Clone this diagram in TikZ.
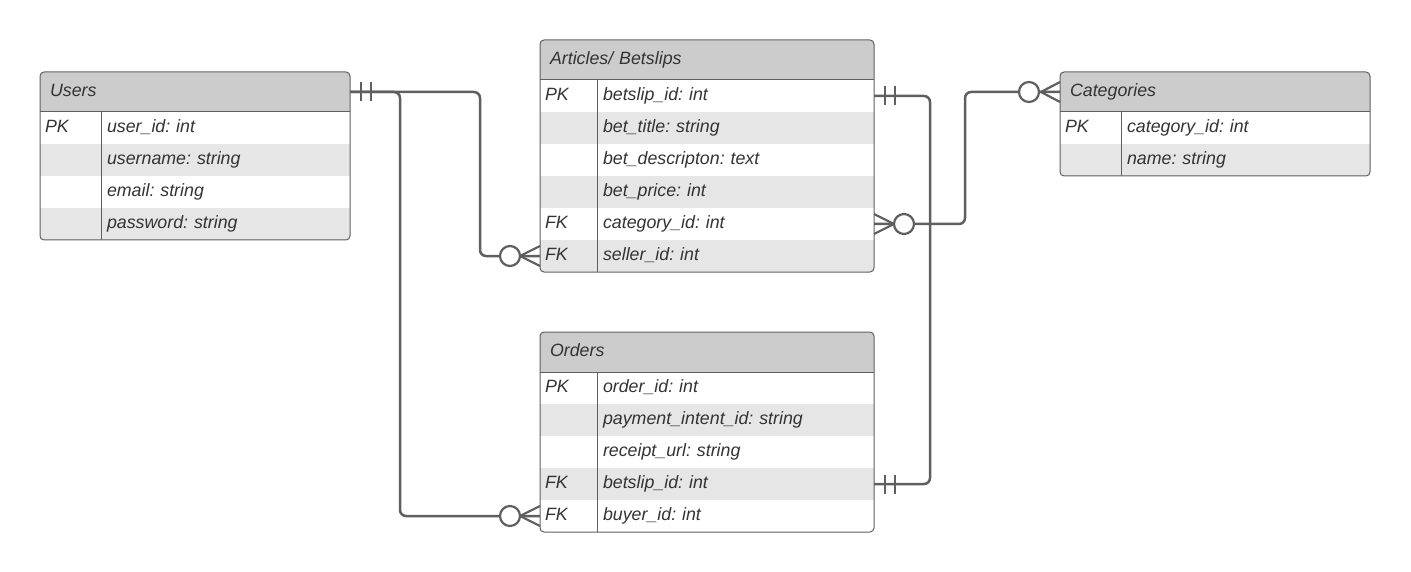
\documentclass[tikz,border=0pt]{standalone}
\usepackage{fontspec}
\setmainfont{Liberation Sans}
\usetikzlibrary{calc}
\frenchspacing

\definecolor{hdrgray}{RGB}{204,204,204}
\definecolor{rowgray}{RGB}{230,230,230}
\definecolor{edgegray}{RGB}{95,95,95}
\definecolor{txtgray}{RGB}{51,51,51}

\begin{document}
\begin{tikzpicture}[x=1pt,y=1pt,yscale=-1,xscale=1,
  font=\fontsize{17.8}{21}\selectfont\itshape,
  cell/.style={anchor=north west,outer sep=0pt,inner ysep=0pt,minimum height=32,
    text height=13,text depth=4,text=txtgray,align=left},
  hdr/.style={cell,minimum height=40,fill=hdrgray,inner xsep=10},
  keycell/.style={cell,inner xsep=5},
  fldcell/.style={cell,inner xsep=6},
  alt/.style={fill=rowgray},
  tabline/.style={draw=edgegray,line width=1},
  conn/.style={draw=edgegray,line width=2.5,rounded corners=6},
  foot/.style={draw=edgegray,line width=2.2},
  ]
\path[use as bounding box] (0,0) rectangle (1411,572);

%Table: Users
\begin{scope}
\clip[rounded corners=4] (40,72) rectangle (350,240);
\node[hdr,text width=290] (users-h) at (40,72) {Users};
\node[keycell,text width=51] (users-k1) at (40,112) {PK};
\node[fldcell,text width=237] (users-f1) at (101,112) {user\_id: int};
\node[keycell,alt,text width=51] (users-k2) at (40,144) {};
\node[fldcell,alt,text width=237] (users-f2) at (101,144) {username: string};
\node[keycell,text width=51] (users-k3) at (40,176) {};
\node[fldcell,text width=237] (users-f3) at (101,176) {email: string};
\node[keycell,alt,text width=51] (users-k4) at (40,208) {};
\node[fldcell,alt,text width=237] (users-f4) at (101,208) {password: string};
\end{scope}
\draw[tabline,rounded corners=4] (users-h.north west) rectangle (users-f4.south east);
\draw[tabline] (users-h.south west) -- (users-h.south east);
\draw[tabline] (users-k1.north east) -- (users-k4.south east);

%Table: Articles/ Betslips
\begin{scope}
\clip[rounded corners=4] (540,40) rectangle (874,272);
\node[hdr,text width=314] (art-h) at (540,40) {Articles/ Betslips};
\node[keycell,text width=47] (art-k1) at (540,80) {PK};
\node[fldcell,text width=265] (art-f1) at (597,80) {betslip\_id: int};
\node[keycell,alt,text width=47] (art-k2) at (540,112) {};
\node[fldcell,alt,text width=265] (art-f2) at (597,112) {bet\_title: string};
\node[keycell,text width=47] (art-k3) at (540,144) {};
\node[fldcell,text width=265] (art-f3) at (597,144) {bet\_descripton: text};
\node[keycell,alt,text width=47] (art-k4) at (540,176) {};
\node[fldcell,alt,text width=265] (art-f4) at (597,176) {bet\_price: int};
\node[keycell,text width=47] (art-k5) at (540,208) {FK};
\node[fldcell,text width=265] (art-f5) at (597,208) {category\_id: int};
\node[keycell,alt,text width=47] (art-k6) at (540,240) {FK};
\node[fldcell,alt,text width=265] (art-f6) at (597,240) {seller\_id: int};
\end{scope}
\draw[tabline,rounded corners=4] (art-h.north west) rectangle (art-f6.south east);
\draw[tabline] (art-h.south west) -- (art-h.south east);
\draw[tabline] (art-k1.north east) -- (art-k6.south east);

%Table: Orders
\begin{scope}
\clip[rounded corners=4] (540,332) rectangle (874,532);
\node[hdr,text width=314] (ord-h) at (540,332) {Orders};
\node[keycell,text width=47] (ord-k1) at (540,372) {PK};
\node[fldcell,text width=265] (ord-f1) at (597,372) {order\_id: int};
\node[keycell,alt,text width=47] (ord-k2) at (540,404) {};
\node[fldcell,alt,text width=265] (ord-f2) at (597,404) {payment\_intent\_id: string};
\node[keycell,text width=47] (ord-k3) at (540,436) {};
\node[fldcell,text width=265] (ord-f3) at (597,436) {receipt\_url: string};
\node[keycell,alt,text width=47] (ord-k4) at (540,468) {FK};
\node[fldcell,alt,text width=265] (ord-f4) at (597,468) {betslip\_id: int};
\node[keycell,text width=47] (ord-k5) at (540,500) {FK};
\node[fldcell,text width=265] (ord-f5) at (597,500) {buyer\_id: int};
\end{scope}
\draw[tabline,rounded corners=4] (ord-h.north west) rectangle (ord-f5.south east);
\draw[tabline] (ord-h.south west) -- (ord-h.south east);
\draw[tabline] (ord-k1.north east) -- (ord-k5.south east);

%Table: Categories
\begin{scope}
\clip[rounded corners=4] (1060,72) rectangle (1370,176);
\node[hdr,text width=290] (cat-h) at (1060,72) {Categories};
\node[keycell,text width=51] (cat-k1) at (1060,112) {PK};
\node[fldcell,text width=237] (cat-f1) at (1121,112) {category\_id: int};
\node[keycell,alt,text width=51] (cat-k2) at (1060,144) {};
\node[fldcell,alt,text width=237] (cat-f2) at (1121,144) {name: string};
\end{scope}
\draw[tabline,rounded corners=4] (cat-h.north west) rectangle (cat-f2.south east);
\draw[tabline] (cat-h.south west) -- (cat-h.south east);
\draw[tabline] (cat-k1.north east) -- (cat-k2.south east);

%Connectors
\draw[conn] (users-h.east) -- ++(130,0) |- (art-k6.west);
\draw[conn] (users-h.east) -- ++(50,0) |- (ord-k5.west);
\draw[conn] (art-f1.east) -- ++(56,0) |- (ord-f4.east);
\draw[conn] (art-f5.east) -- ++(91,0) |- (cat-h.west);

%Ends: one and only one
\draw[foot] ($(users-h.east)+(11,-9.5)$) -- ++(0,19) ($(users-h.east)+(21,-9.5)$) -- ++(0,19);
\draw[foot] ($(art-f1.east)+(11,-9.5)$) -- ++(0,19) ($(art-f1.east)+(21,-9.5)$) -- ++(0,19);
\draw[foot] ($(ord-f4.east)+(11,-9.5)$) -- ++(0,19) ($(ord-f4.east)+(21,-9.5)$) -- ++(0,19);

%Ends: zero or many
\draw[foot] ($(art-k6.west)+(0,-10)$) -- ++(-20,10) -- ++(20,10);
\draw[foot,fill=white] ($(art-k6.west)+(-30,0)$) circle[radius=10];
\draw[foot] ($(ord-k5.west)+(0,-10)$) -- ++(-20,10) -- ++(20,10);
\draw[foot,fill=white] ($(ord-k5.west)+(-30,0)$) circle[radius=10];
\draw[foot] ($(art-f5.east)+(0,-10)$) -- ++(20,10) -- ++(-20,10);
\draw[foot,fill=white] ($(art-f5.east)+(30,0)$) circle[radius=10];
\draw[foot] ($(cat-h.west)+(0,-10)$) -- ++(-19,10) -- ++(19,10);
\draw[foot,fill=white] ($(cat-h.west)+(-31,0)$) circle[radius=10];

\end{tikzpicture}
\end{document}
